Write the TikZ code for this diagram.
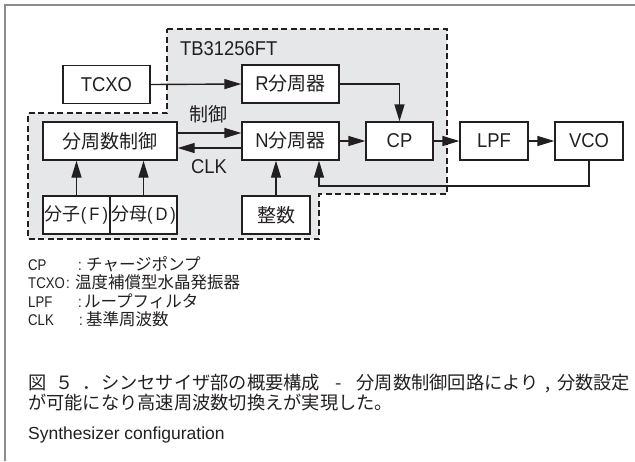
\documentclass[tikz,border=0pt]{standalone}
\usepackage{fontspec}
\setmainfont{Liberation Sans}[FakeStretch=0.92]
\newfontfamily\jp{Noto Sans CJK JP}
\newfontfamily\latn{Liberation Sans}
\newfontfamily\lgfont{Liberation Sans}[FakeStretch=0.85]
\usetikzlibrary{arrows.meta}
\definecolor{linec}{HTML}{231F20}
\definecolor{regionc}{HTML}{E6E7E8}
\definecolor{framec}{HTML}{8C8C8C}
\newcommand\bj[1]{{\fontsize{19}{22}\selectfont\jp #1}}
\tikzset{
  blk/.style={draw=linec, line width=1.4pt, fill=white, inner sep=0pt,
    minimum height=38pt, font=\fontsize{20}{22}\selectfont, text=linec},
  arr/.style={draw=linec, line width=1.4pt, -{Triangle[length=17pt,width=10pt]}},
  region/.style={draw=linec, line width=1.3pt, dash pattern=on 6pt off 3.5pt, fill=regionc},
  frame/.style={draw=framec, line width=1.6pt},
  lbl/.style={inner sep=0pt, text=linec, font=\fontsize{20}{22}\selectfont},
  lgl/.style={inner sep=0pt, text=linec, anchor=base west, font=\fontsize{15.5}{18}\selectfont\lgfont},
  lgc/.style={inner sep=0pt, text=linec, anchor=base, font=\fontsize{15.5}{18}\selectfont\lgfont},
  lgj/.style={inner sep=0pt, text=linec, anchor=base west, font=\fontsize{16.5}{18}\selectfont\jp},
  captext/.style={inner sep=0pt, text=linec, anchor=base west, font=\fontsize{18.25}{20}\selectfont\jp},
  captextl/.style={inner sep=0pt, text=linec, anchor=base west, font=\fontsize{17.5}{20}\selectfont\latn},
}
\begin{document}
\begin{tikzpicture}[x=1pt,y=-1pt]
\useasboundingbox (0,0) rectangle (635,461);
% frame
\draw[frame] (5,461) -- (5,5) -- (635,5);
% chip region
\path[region] (167,29) -- (447,29) -- (447,194) -- (319,194) -- (319,239)
  -- (28,239) -- (28,113) -- (167,113) -- cycle;
\node[lbl, anchor=base west] (chip) at (180,55) {TB31256FT};
% blocks
\node[blk, minimum width=87pt] (tcxo) at (106.5,84.5) {TCXO};
\node[blk, minimum width=97pt] (rdiv) at (290.5,84) {R\bj{分周器}};
\node[blk, minimum width=134pt] (fc) at (110,141) {\bj{分周数制御}};
\node[blk, minimum width=97pt] (ndiv) at (290.5,141) {N\bj{分周器}};
\node[blk, minimum width=67pt] (cp) at (399.5,141) {CP};
\node[blk, minimum width=68pt] (lpf) at (494,141) {LPF};
\node[blk, minimum width=68pt] (vco) at (589,141) {VCO};
\node[blk, minimum width=67pt] (num) at (76.5,215) {\makebox[50pt]{{\fontsize{18}{22}\selectfont\jp 分子}{\fontsize{18}{22}\selectfont(\,F\,)}}};
\node[blk, minimum width=67pt] (den) at (143.5,215) {\makebox[50pt]{{\fontsize{18}{22}\selectfont\jp 分母}{\fontsize{18}{22}\selectfont(\,D\,)}}};
\node[blk, minimum width=68pt] (int) at (276,215) {\bj{整数}};
% connectors
\draw[arr] (tcxo.east) -- (rdiv.west);
\draw[arr] (rdiv.east) -| (cp.north);
\draw[arr] ([yshift=8pt]fc.east) -- ([yshift=8pt]ndiv.west);
\draw[arr] ([yshift=-7pt]ndiv.west) -- ([yshift=-7pt]fc.east);
\draw[arr] (ndiv.east) -- (cp.west);
\draw[arr] (cp.east) -- (lpf.west);
\draw[arr] (lpf.east) -- (vco.west);
\draw[arr] (num.north) -- (num.north |- fc.south);
\draw[arr] (den.north) -- (den.north |- fc.south);
\draw[arr] (int.north) -- (int.north |- ndiv.south);
\coordinate (fb) at (319,186);
\draw[arr] (vco.south) |- (fb) -- (fb |- ndiv.south);
\node[lbl] (ctl) at (208,114) {\bj{制御}};
\node[lbl] (clk) at (209,167) {CLK};
% legend
\node[lgl] (k1) at (28,270.5) {CP};
\node[lgc] (s1) at (80,270.5) {:};
\node[lgj] (v1) at (86,270.5) {チャージポンプ};
\node[lgl] (k2) at (28,288.5) {TCXO};
\node[lgc] (s2) at (68,288.5) {:};
\node[lgj] (v2) at (75,288.5) {温度補償型水晶発振器};
\node[lgl] (k3) at (28,307) {LPF};
\node[lgc] (s3) at (80,307) {:};
\node[lgj] (v3) at (84,307) {ループフィルタ};
\node[lgl] (k4) at (28,325.5) {CLK};
\node[lgc] (s4) at (81,325.5) {:};
\node[lgj] (v4) at (86,325.5) {基準周波数};
% caption
\node[captext] (c1) at (28,389) {図\hspace{0.5em}５\hspace{0.5em}．シンセサイザ部の概要構成\makebox[2em]{-}分周数制御回路により\makebox[1em]{,}分数設定};
\node[captext] (c2) at (28,409) {が可能になり高速周波数切換えが実現した。};
\node[captextl] (c3) at (28,439) {Synthesizer configuration};
\end{tikzpicture}
\end{document}
